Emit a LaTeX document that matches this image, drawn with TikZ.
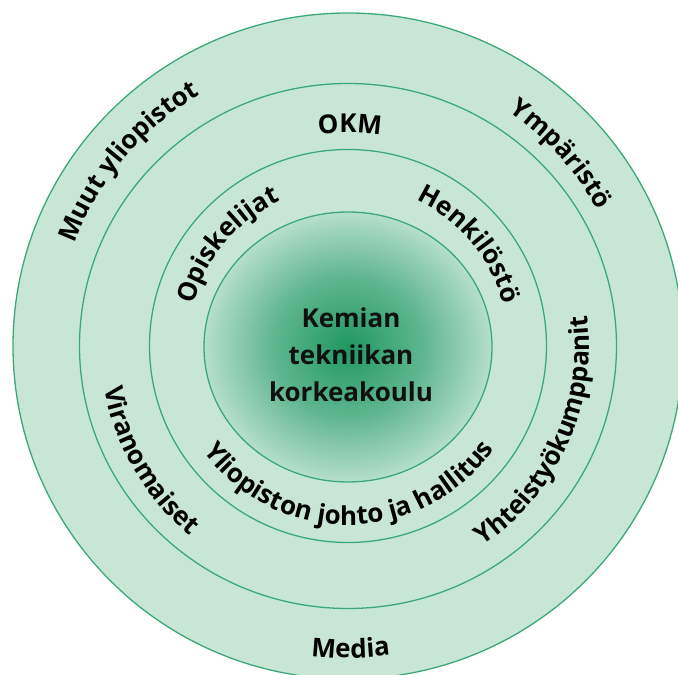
\documentclass[tikz,border=0pt]{standalone}
\usepackage{fontspec}
\setmainfont{Open Sans}
\usetikzlibrary{decorations.text}
\definecolor{ringfill}{RGB}{200,230,214}
\definecolor{ringline}{RGB}{60,168,122}
\definecolor{coredark}{RGB}{32,152,98}
\definecolor{coremid}{RGB}{95,182,142}
\definecolor{corelight}{RGB}{182,223,201}
\definecolor{txt}{RGB}{17,17,17}
\pgfdeclareradialshading{coreshade}{\pgfpoint{0bp}{0bp}}{color(0bp)=(coredark); color(13bp)=(coremid); color(25bp)=(corelight); color(50bp)=(corelight)}
\newcommand\lblfont{\fontsize{26}{30}\selectfont\bfseries}
% clockwise text (tops outward): mid angle, baseline radius, text
\newcommand\cwlabel[3]{\path[decorate,decoration={text along path,text align=center,text={|\lblfont|#3}}]
  ([shift={(C)}]{#1+85}:#2pt) arc[start angle=#1+85,end angle=#1-85,radius=#2pt];}
% counterclockwise text (tops inward)
\newcommand\ccwlabel[3]{\path[decorate,decoration={text along path,text align=center,text={|\lblfont|#3}}]
  ([shift={(C)}]{#1-85}:#2pt) arc[start angle=#1-85,end angle=#1+85,radius=#2pt];}
\begin{document}
\begin{tikzpicture}[x=1pt,y=1pt,
  ring/.style={draw=ringline,line width=1.3pt}]
\useasboundingbox (0,0) rectangle (678,675);
\coordinate (C) at (348,329);
\begin{scope}
  \clip (0,0) rectangle (678,675);
  \fill[ringfill] (C) ellipse[x radius=335pt,y radius=333pt];
  \draw[ring] (C) ellipse[x radius=335pt,y radius=333pt];
\end{scope}
\draw[ring] (C) ellipse[x radius=268.5pt,y radius=262.5pt];
\draw[ring] (C) ellipse[x radius=198.5pt,y radius=196.5pt];
\shade[shading=coreshade] (348,328) ellipse[x radius=144pt,y radius=135pt];
\draw[ring] (348,328) ellipse[x radius=144pt,y radius=135pt];
\node[font=\fontsize{26}{37}\selectfont\bfseries,text=txt,align=center,inner sep=0pt] (core) at (351,320) {Kemian\\tekniikan\\korkeakoulu};
% outer ring
\cwlabel{140}{292}{Muut yliopistot}
\cwlabel{42}{284}{Ympäristö}
\ccwlabel{270.5}{312}{Media}
% middle ring
\cwlabel{89.5}{213}{OKM}
\ccwlabel{210}{247}{Viranomaiset}
\ccwlabel{335.7}{241}{Yhteistyökumppanit}
% inner ring
\cwlabel{140}{160}{Opiskelijat}
\cwlabel{40}{161}{Henkilöstö}
\ccwlabel{270.5}{179}{Yliopiston johto ja hallitus}
\end{tikzpicture}
\end{document}
